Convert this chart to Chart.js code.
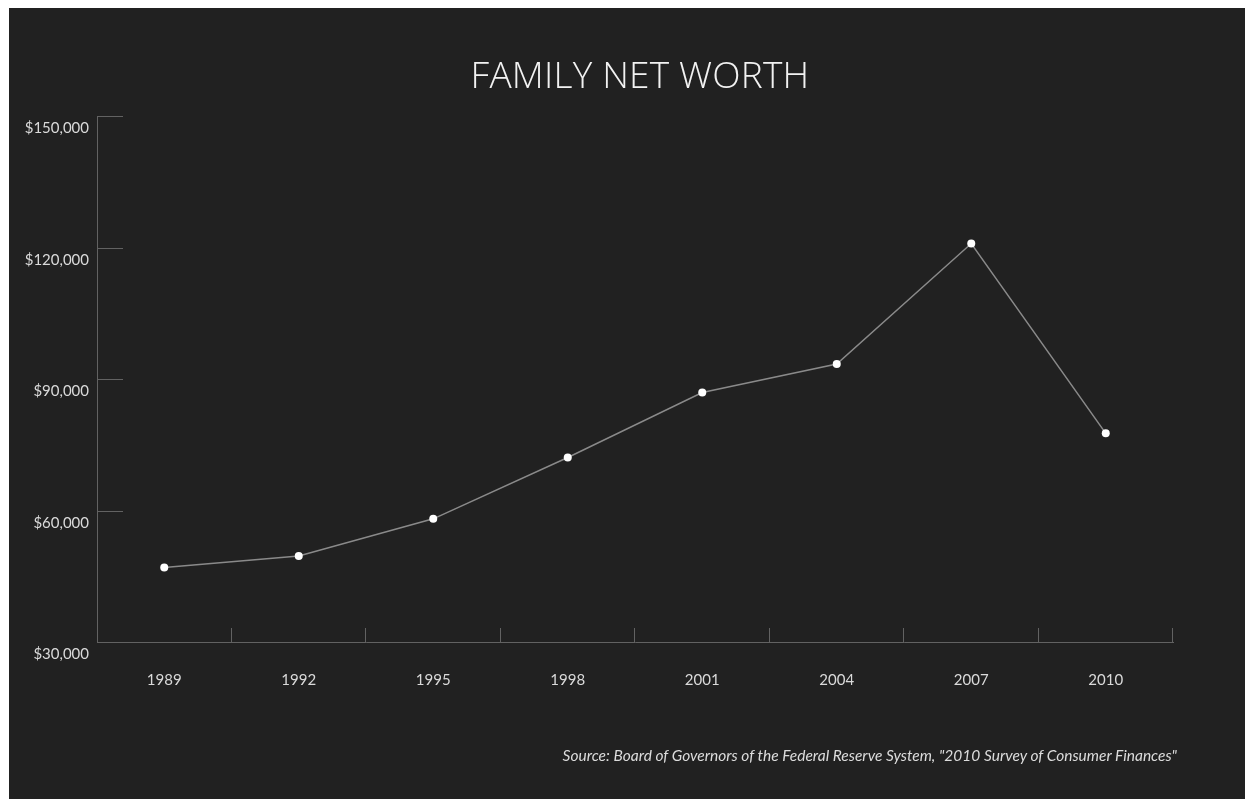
<!DOCTYPE html>
<html>
<head>
<meta charset="utf-8">
<title>Family Net Worth</title>
<script src="https://cdn.jsdelivr.net/npm/chart.js@4"></script>
<style>
  html, body { margin: 0; padding: 0; background: #ffffff; }
  body { width: 1253px; height: 802px; position: relative; overflow: hidden; }
  #panel { position: absolute; left: 9px; top: 8px; width: 1236px; height: 791px; background: #212121; }
  #chart { position: absolute; left: 0; top: 0; }
  #title {
    position: absolute; left: 631px; top: 47px; transform: translateX(-50%);
    font-family: "Open Sans", "Lato", sans-serif; font-weight: 300; font-size: 37px;
    line-height: 1; color: #f2f2f2; white-space: nowrap; letter-spacing: 0.2px;
  }
  #source {
    position: absolute; right: 68px; top: 740px;
    font-family: "Lato", "Open Sans", sans-serif; font-style: italic; font-size: 15.5px;
    line-height: 1; color: #dcdcdc; white-space: nowrap;
  }
</style>
</head>
<body>
<div id="panel">
  <canvas id="chart" width="1236" height="791"></canvas>
  <div id="title">FAMILY NET WORTH</div>
  <div id="source">Source: Board of Governors of the Federal Reserve System, "2010 Survey of Consumer Finances"</div>
</div>
<script>
// Survey years
const years = ['1989', '1992', '1995', '1998', '2001', '2004', '2007', '2010'];
// Family net worth, dollars
const netWorth = [47000, 49600, 58100, 72100, 86900, 93400, 120900, 77600];
// Value axis range and step
const yMin = 30000;
const yMax = 150000;
const yStep = 30000;

const AXIS_COLOR = '#626262';
const LINE_COLOR = '#8a8a8a';
const LABEL_COLOR = '#dadada';

// Short tick marks drawn inward from the axes (left axis: rightwards, bottom axis: upwards)
const innerTicks = {
  id: 'innerTicks',
  beforeDatasetsDraw(chart) {
    const { ctx } = chart;
    const x = chart.scales.x;
    const y = chart.scales.y;
    ctx.save();
    ctx.strokeStyle = AXIS_COLOR;
    ctx.lineWidth = 1;
    ctx.beginPath();
    y.ticks.forEach((t, i) => {
      const py = Math.round(y.getPixelForTick(i)) + 0.5;
      ctx.moveTo(x.left, py);
      ctx.lineTo(x.left + 26, py);
    });
    // category boundaries; the leftmost one sits on the value axis
    const n = x.ticks.length;
    const bounds = [];
    for (let i = 1; i < n; i++) {
      bounds.push((x.getPixelForTick(i - 1) + x.getPixelForTick(i)) / 2);
    }
    bounds.push(x.right);
    const base = y.bottom;
    bounds.forEach(b => {
      const px = Math.round(b) - 0.5;
      ctx.moveTo(px, base);
      ctx.lineTo(px, base - 14);
    });
    ctx.stroke();
    ctx.restore();
  }
};

new Chart(document.getElementById('chart'), {
  type: 'line',
  data: {
    labels: years,
    datasets: [{
      data: netWorth,
      borderColor: LINE_COLOR,
      borderWidth: 1.5,
      pointRadius: 4,
      pointBackgroundColor: '#ffffff',
      pointBorderWidth: 0,
      pointHoverRadius: 4,
      tension: 0,
      fill: false
    }]
  },
  options: {
    responsive: false,
    animation: false,
    devicePixelRatio: 1,
    layout: { padding: { top: 108, right: 72, left: 0, bottom: 0 } },
    plugins: {
      legend: { display: false },
      title: { display: false },
      tooltip: { enabled: false }
    },
    scales: {
      x: {
        type: 'category',
        offset: true,
        grid: { display: false, drawTicks: false },
        border: { display: true, color: AXIS_COLOR, width: 1 },
        ticks: {
          color: LABEL_COLOR,
          font: { family: 'Lato, "Open Sans", sans-serif', size: 15 },
          padding: 29,
          maxRotation: 0
        },
        afterFit(scale) { scale.height = 157; }
      },
      y: {
        type: 'linear',
        min: yMin,
        max: yMax,
        grid: { display: false, drawTicks: false },
        border: { display: true, color: AXIS_COLOR, width: 1 },
        ticks: {
          stepSize: yStep,
          color: LABEL_COLOR,
          font: { family: 'Lato, "Open Sans", sans-serif', size: 15 },
          padding: 8,
          labelOffset: 12.5,
          callback: v => '$' + Number(v).toLocaleString('en-US')
        },
        afterFit(scale) { scale.width = 88; }
      }
    }
  },
  plugins: [innerTicks]
});
</script>
</body>
</html>
